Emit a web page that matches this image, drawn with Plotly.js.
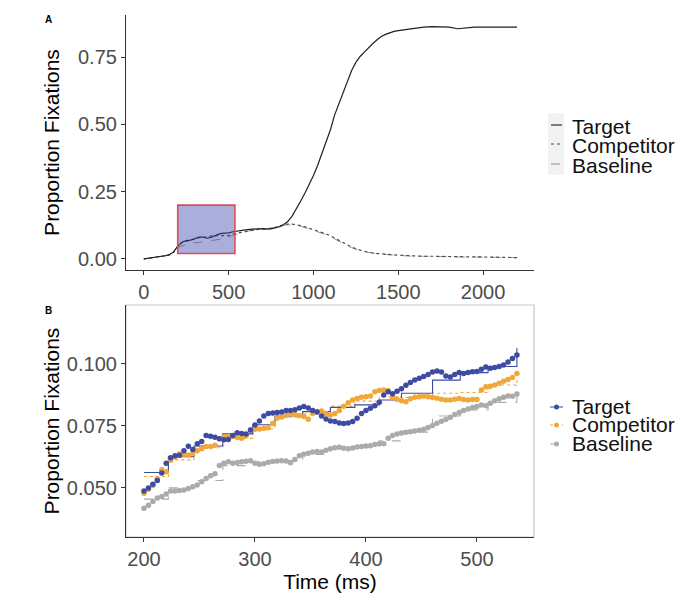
<!DOCTYPE html>
<html>
<head>
<meta charset="utf-8">
<script src="https://cdn.plot.ly/plotly-3.0.1.min.js"></script>
<style>
  html, body { margin: 0; padding: 0; background: #fff; }
  #chart { width: 692px; height: 602px; }
</style>
</head>
<body>
<div id="chart"></div>
<script>
// ---- Panel A: full time course (ms) ----
const timeA = [0,25,50,75,100,125,150,175,200,225,250,275,300,325,350,375,400,425,450,475,
  500,525,550,575,600,625,650,675,700,725,750,775,800,825,850,875,900,925,950,975,
  1000,1025,1050,1075,1100,1125,1150,1175,1200,1225,1250,1275,1300,1325,1350,1375,1400,1425,1450,1475,
  1500,1550,1600,1650,1700,1750,1800,1850,1900,1950,2000,2050,2100,2150,2200];

const targetA = [0.000,0.002,0.005,0.007,0.010,0.012,0.016,0.026,0.048,0.062,0.068,0.070,0.075,0.081,0.081,0.077,0.081,0.088,0.094,0.096,
  0.097,0.101,0.104,0.105,0.108,0.110,0.112,0.112,0.113,0.111,0.112,0.115,0.120,0.128,0.140,0.160,0.186,0.215,0.245,0.276,
  0.310,0.348,0.390,0.432,0.480,0.535,0.578,0.622,0.664,0.700,0.730,0.752,0.768,0.785,0.800,0.814,0.826,0.834,0.840,0.845,
  0.848,0.853,0.858,0.861,0.863,0.862,0.861,0.855,0.858,0.861,0.861,0.862,0.861,0.861,0.861];

const competitorA = [0.000,0.002,0.004,0.007,0.009,0.012,0.015,0.024,0.047,0.061,0.065,0.071,0.074,0.079,0.080,0.081,0.087,0.087,0.087,0.086,
  0.087,0.093,0.096,0.099,0.103,0.106,0.108,0.110,0.111,0.112,0.114,0.117,0.121,0.126,0.130,0.129,0.127,0.124,0.119,0.114,
  0.108,0.104,0.099,0.093,0.086,0.077,0.068,0.059,0.051,0.044,0.038,0.032,0.028,0.025,0.022,0.020,0.019,0.017,0.016,0.015,
  0.014,0.012,0.011,0.010,0.010,0.009,0.009,0.008,0.008,0.008,0.007,0.007,0.006,0.006,0.005];

const baselineA = [0.000,0.002,0.004,0.006,0.009,0.011,0.014,0.022,0.042,0.049,0.052,0.060,0.060,0.061,0.064,0.066,0.067,0.071,0.073,0.078,
  0.083,0.087,0.092,0.097,0.101,0.105,0.108,0.110,0.112,0.113,0.115,0.118,0.121,0.125,0.127,0.126,0.124,0.121,0.117,0.112,
  0.106,0.101,0.096,0.090,0.083,0.074,0.065,0.057,0.049,0.042,0.036,0.031,0.027,0.024,0.021,0.019,0.018,0.016,0.015,0.014,
  0.013,0.011,0.010,0.010,0.009,0.009,0.008,0.008,0.007,0.007,0.007,0.006,0.006,0.006,0.005];

// highlighted analysis window (ms, proportion)
const windowStart = 200, windowEnd = 537;
const windowLow = 0.02, windowHigh = 0.2;

// ---- Panel B: analysis window, observed proportions every 4 ms ----
const timeB = [200,204,208,212,216,220,224,228,232,236,240,244,248,252,256,260,264,268,272,276,
  280,284,288,292,296,300,304,308,312,316,320,324,328,332,336,340,344,348,352,356,
  360,364,368,372,376,380,384,388,392,396,400,404,408,412,416,420,424,428,432,436,
  440,444,448,452,456,460,464,468,472,476,480,484,488,492,496,500,504,508,512,516,
  520,524,528,532,536];

const targetB = [0.0488,0.0500,0.0515,0.0530,0.0560,0.0600,0.0622,0.0630,0.0632,0.0650,0.0668,0.0655,0.0678,0.0687,0.0711,0.0708,0.0704,0.0698,0.0694,0.0695,
  0.0712,0.0723,0.0720,0.0718,0.0734,0.0754,0.0770,0.0790,0.0800,0.0802,0.0804,0.0806,0.0812,0.0812,0.0815,0.0822,0.0828,0.0822,0.0812,0.0806,
  0.0790,0.0778,0.0770,0.0768,0.0762,0.0760,0.0762,0.0768,0.0781,0.0800,0.0812,0.0821,0.0832,0.0846,0.0875,0.0888,0.0880,0.0890,0.0900,0.0914,
  0.0925,0.0935,0.0942,0.0950,0.0958,0.0968,0.0972,0.0968,0.0952,0.0948,0.0958,0.0966,0.0962,0.0966,0.0969,0.0970,0.0979,0.0988,0.0983,0.0986,
  0.0990,0.0996,0.1008,0.1022,0.1036];

const competitorB = [0.0479,0.0495,0.0510,0.0537,0.0573,0.0565,0.0612,0.0625,0.0637,0.0636,0.0633,0.0640,0.0650,0.0658,0.0667,0.0667,0.0672,0.0698,0.0705,0.0707,
  0.0707,0.0703,0.0700,0.0712,0.0734,0.0737,0.0738,0.0741,0.0743,0.0760,0.0781,0.0786,0.0792,0.0798,0.0796,0.0792,0.0788,0.0777,0.0800,0.0808,
  0.0810,0.0800,0.0794,0.0800,0.0812,0.0830,0.0844,0.0855,0.0861,0.0866,0.0868,0.0871,0.0888,0.0893,0.0895,0.0892,0.0866,0.0858,0.0852,0.0848,
  0.0860,0.0866,0.0868,0.0871,0.0868,0.0865,0.0862,0.0858,0.0855,0.0855,0.0858,0.0861,0.0857,0.0855,0.0857,0.0857,0.0895,0.0908,0.0910,0.0915,
  0.0922,0.0930,0.0937,0.0945,0.0962];

const baselineB = [0.0418,0.0430,0.0445,0.0459,0.0465,0.0475,0.0488,0.0488,0.0490,0.0492,0.0498,0.0505,0.0512,0.0525,0.0538,0.0549,0.0557,0.0590,0.0600,0.0606,
  0.0600,0.0603,0.0606,0.0608,0.0610,0.0600,0.0596,0.0598,0.0604,0.0607,0.0609,0.0610,0.0609,0.0602,0.0615,0.0630,0.0636,0.0640,0.0645,0.0647,
  0.0645,0.0652,0.0658,0.0662,0.0664,0.0660,0.0658,0.0661,0.0665,0.0667,0.0669,0.0670,0.0675,0.0678,0.0678,0.0700,0.0712,0.0718,0.0722,0.0725,
  0.0727,0.0730,0.0733,0.0737,0.0744,0.0752,0.0761,0.0769,0.0776,0.0785,0.0796,0.0804,0.0812,0.0818,0.0824,0.0828,0.0835,0.0832,0.0842,0.0852,
  0.0860,0.0866,0.0871,0.0870,0.0879];

// model estimates as step functions
const stepTimes = [200,222,245,271,298,318,343,368,390,412,432,460,485,510,536];
const targetStep = [0.0562,0.0626,0.0669,0.0718,0.0755,0.0790,0.0808,0.0825,0.0835,0.0855,0.0882,0.0935,0.0965,0.0990,0.1065];
const competitorStep = [0.0546,0.0613,0.0662,0.0700,0.0738,0.0785,0.0798,0.0830,0.0850,0.0868,0.0865,0.0882,0.0885,0.0915,0.0935];
const baselineStep = [0.0455,0.0500,0.0530,0.0590,0.0605,0.0610,0.0635,0.0660,0.0665,0.0690,0.0725,0.0790,0.0815,0.0845,0.0915];

const seriesNames = ['Target', 'Competitor', 'Baseline'];

// ---- styling ----
const FONT = '"Liberation Sans", Arial, Helvetica, sans-serif';
const colB = { Target: '#3d4ba3', Competitor: '#f2a73a', Baseline: '#ababab' };
const lineA = {
  Target: { color: '#1e1e1e', dash: 'solid', width: 1.2 },
  Competitor: { color: '#4a4a4a', dash: 'dot', width: 1.2 },
  Baseline: { color: '#9a9a9a', dash: 'dash', width: 1.0 }
};
const stepDash = { Target: 'solid', Competitor: 'dot', Baseline: 'dash' };

// plot area spans x 126..534 px, y 15..537 px
const M = { l: 126, r: 158, t: 15, b: 65 };
const W = 692, H = 602;
const PW = W - M.l - M.r, PH = H - M.t - M.b;
const px = x => (x - M.l) / PW;
const py = y => (H - M.b - y) / PH;

const seriesA = { Target: targetA, Competitor: competitorA, Baseline: baselineA };
const seriesB = { Target: targetB, Competitor: competitorB, Baseline: baselineB };
const stepsB = { Target: targetStep, Competitor: competitorStep, Baseline: baselineStep };

const traces = [];
seriesNames.slice().reverse().forEach(name => {
  traces.push({
    type: 'scatter', mode: 'lines', x: timeA, y: seriesA[name],
    xaxis: 'x', yaxis: 'y', showlegend: false, hoverinfo: 'skip',
    line: { color: lineA[name].color, dash: lineA[name].dash, width: lineA[name].width }
  });
});
seriesNames.slice().reverse().forEach(name => {
  traces.push({
    type: 'scatter', mode: 'lines', x: stepTimes, y: stepsB[name],
    xaxis: 'x2', yaxis: 'y2', showlegend: false, hoverinfo: 'skip',
    line: { color: colB[name], dash: stepDash[name], width: 1.1, shape: 'hv' }
  });
});
seriesNames.slice().reverse().forEach(name => {
  traces.push({
    type: 'scatter', mode: 'markers', x: timeB, y: seriesB[name],
    xaxis: 'x2', yaxis: 'y2', showlegend: false, hoverinfo: 'skip',
    marker: { color: colB[name], size: 5.5, line: { width: 0 } }
  });
});

const axisCommon = {
  showline: true, linecolor: '#333', linewidth: 1.1,
  ticks: 'outside', ticklen: 4, tickwidth: 1, tickcolor: '#333',
  showgrid: false, zeroline: false,
  tickfont: { family: FONT, size: 20, color: '#4d4d4d' },
  fixedrange: true
};

const shapes = [
  // analysis window highlighted on the full time course
  { type: 'rect', xref: 'x', yref: 'y', x0: windowStart, x1: windowEnd, y0: windowLow, y1: windowHigh,
    fillcolor: 'rgba(60,70,170,0.44)', line: { color: '#dc4c5a', width: 1.6 }, layer: 'above' },
  // light frame around panel B
  { type: 'rect', xref: 'x2 domain', yref: 'y2 domain', x0: 0, x1: 1, y0: 0, y1: 1,
    line: { color: '#c9c9c9', width: 1.2 }, layer: 'below' },
  // legend key background for panel A
  { type: 'rect', xref: 'paper', yref: 'paper', x0: px(548), x1: px(564), y0: py(175), y1: py(113),
    fillcolor: '#f2f2f2', line: { width: 0 }, layer: 'below' }
];

const annotations = [
  { text: '<b>A</b>', x: px(48), y: py(20), xref: 'paper', yref: 'paper', showarrow: false,
    font: { family: FONT, size: 10, color: '#000' }, xanchor: 'center', yanchor: 'middle' },
  { text: '<b>B</b>', x: px(48), y: py(310), xref: 'paper', yref: 'paper', showarrow: false,
    font: { family: FONT, size: 10, color: '#000' }, xanchor: 'center', yanchor: 'middle' }
];

const legA_y = { Target: 126, Competitor: 145, Baseline: 165 };
const legB_y = { Target: 406, Competitor: 424, Baseline: 443 };
seriesNames.forEach(name => {
  annotations.push({ text: name, x: px(570), y: py(legA_y[name]), xref: 'paper', yref: 'paper',
    showarrow: false, xanchor: 'left', yanchor: 'middle',
    font: { family: FONT, size: 21, color: '#111' } });
  annotations.push({ text: name, x: px(570), y: py(legB_y[name]), xref: 'paper', yref: 'paper',
    showarrow: false, xanchor: 'left', yanchor: 'middle',
    font: { family: FONT, size: 21, color: '#111' } });
  shapes.push({ type: 'line', xref: 'paper', yref: 'paper', x0: px(551), x1: px(562),
    y0: py(legA_y[name] - 1), y1: py(legA_y[name] - 1),
    line: { color: lineA[name].color, dash: lineA[name].dash, width: 1.1 } });
  shapes.push({ type: 'line', xref: 'paper', yref: 'paper', x0: px(550), x1: px(563),
    y0: py(legB_y[name] + 1), y1: py(legB_y[name] + 1),
    line: { color: colB[name], dash: stepDash[name], width: 1 } });
  shapes.push({ type: 'circle', xref: 'paper', yref: 'paper',
    x0: px(554), x1: px(559), y0: py(legB_y[name] + 3.5), y1: py(legB_y[name] - 1.5),
    fillcolor: colB[name], line: { width: 0 } });
});

const layout = {
  width: W, height: H,
  margin: M,
  paper_bgcolor: '#fff', plot_bgcolor: 'rgba(0,0,0,0)',
  font: { family: FONT, color: '#000' },
  showlegend: false,
  xaxis: Object.assign({}, axisCommon, {
    domain: [0, 1], anchor: 'y', range: [-105, 2300],
    tickvals: [0, 500, 1000, 1500, 2000]
  }),
  yaxis: Object.assign({}, axisCommon, {
    domain: [py(270), 1], anchor: 'x', range: [-0.041, 0.906],
    tickvals: [0, 0.25, 0.5, 0.75], tickformat: '.2f',
    title: { text: 'Proportion Fixations', font: { family: FONT, size: 21, color: '#000' }, standoff: 12 }
  }),
  xaxis2: Object.assign({}, axisCommon, {
    domain: [0, 1], anchor: 'y2', range: [183.8, 551.4],
    tickvals: [200, 300, 400, 500],
    title: { text: 'Time (ms)', font: { family: FONT, size: 21, color: '#000' }, standoff: 0 }
  }),
  yaxis2: Object.assign({}, axisCommon, {
    domain: [0, py(305)], anchor: 'x2', range: [0.0302, 0.1238],
    tickvals: [0.05, 0.075, 0.1], tickformat: '.3f',
    title: { text: 'Proportion Fixations', font: { family: FONT, size: 21, color: '#000' }, standoff: 1 }
  }),
  shapes: shapes,
  annotations: annotations
};

Plotly.newPlot('chart', traces, layout, { staticPlot: true, displayModeBar: false });
</script>
</body>
</html>
